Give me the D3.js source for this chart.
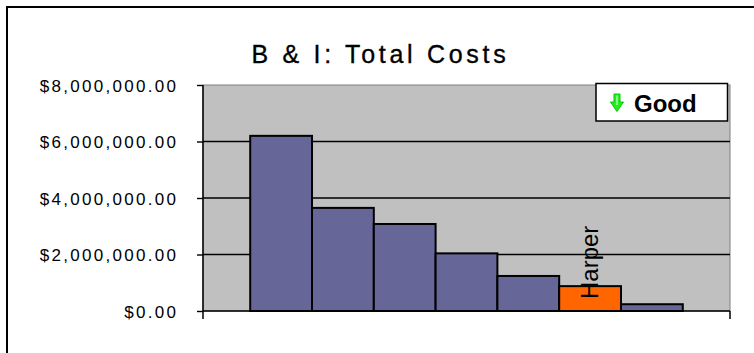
<!DOCTYPE html>
<html>
<head>
<meta charset="utf-8">
<script src="https://cdn.jsdelivr.net/npm/d3@7"></script>
<style>
  html, body { margin: 0; padding: 0; background: #fff; }
  svg { display: block; }
  text { font-family: "Liberation Sans", Arial, sans-serif; }
</style>
</head>
<body>
<svg id="chart" width="754" height="353"></svg>
<script>
// ---- data ----
const title = "B & I: Total Costs";
const series = ["Site 1", "Site 2", "Site 3", "Site 4", "Site 5", "Harper", "Site 7"];
const totals = [6200000, 3650000, 3080000, 2040000, 1240000, 880000, 240000];
const highlighted = "Harper";
const yTicks = [0, 2000000, 4000000, 6000000, 8000000];
const legendLabel = "Good";

// ---- layout ----
const plot = { left: 203, right: 730, top: 85, bottom: 311 };

const svg = d3.select("#chart");

// outer chart border
svg.append("rect")
  .attr("x", 7).attr("y", 7).attr("width", 770).attr("height", 370)
  .attr("fill", "#fff").attr("stroke", "#000").attr("stroke-width", 2);

const x = d3.scaleBand()
  .domain(series)
  .range([plot.left, plot.right])
  .paddingInner(0)
  .paddingOuter(0.764);

const y = d3.scaleLinear()
  .domain([0, 8000000])
  .range([plot.bottom, plot.top]);

// plot area background
svg.append("rect")
  .attr("x", plot.left).attr("y", plot.top)
  .attr("width", plot.right - plot.left).attr("height", plot.bottom - plot.top)
  .attr("fill", "#C0C0C0").attr("stroke", "#808080").attr("stroke-width", 1);

// gridlines
svg.append("g")
  .selectAll("line")
  .data(yTicks.filter(d => d > 0 && d < 8000000))
  .join("line")
  .attr("x1", plot.left).attr("x2", plot.right)
  .attr("y1", d => y(d)).attr("y2", d => y(d))
  .attr("stroke", "#000").attr("stroke-width", 1.4);

// bars
svg.append("g")
  .selectAll("rect")
  .data(series.map((s, i) => ({ name: s, value: totals[i] })))
  .join("rect")
  .attr("x", d => x(d.name))
  .attr("y", d => y(d.value))
  .attr("width", x.bandwidth())
  .attr("height", d => y(0) - y(d.value))
  .attr("fill", d => d.name === highlighted ? "#FF6600" : "#666699")
  .attr("stroke", "#000").attr("stroke-width", 2);

// y axis
const yAxis = d3.axisLeft(y)
  .tickValues(yTicks)
  .tickSize(6)
  .tickPadding(0)
  .tickFormat(d3.format("$,.2f"));
const ya = svg.append("g")
  .attr("transform", `translate(${plot.left},0)`)
  .call(yAxis);
ya.select(".domain").remove();
ya.selectAll(".tick line").attr("stroke", "#000").attr("stroke-width", 1.4);
ya.selectAll(".tick text")
  .attr("x", -24.7)
  .attr("dy", "0.36em")
  .attr("fill", "#000")
  .style("font-size", "17px")
  .style("letter-spacing", "2.3px")
  .style("font-family", "'Liberation Sans', Arial, sans-serif");
svg.append("line")
  .attr("x1", plot.left).attr("x2", plot.left)
  .attr("y1", plot.top).attr("y2", plot.bottom + 8)
  .attr("stroke", "#000").attr("stroke-width", 1.5);

// x axis (single category: ticks only at the ends)
svg.append("line")
  .attr("x1", plot.left).attr("x2", plot.right)
  .attr("y1", plot.bottom).attr("y2", plot.bottom)
  .attr("stroke", "#000").attr("stroke-width", 1.5);
svg.append("line")
  .attr("x1", plot.right).attr("x2", plot.right)
  .attr("y1", plot.bottom).attr("y2", plot.bottom + 8)
  .attr("stroke", "#000").attr("stroke-width", 1.5);

// data label for highlighted series
const hx = x(highlighted) + x.bandwidth() / 2 + 8;
svg.append("text")
  .attr("transform", `translate(${hx},${y(0) - 12}) rotate(-90)`)
  .attr("text-anchor", "start")
  .style("font-size", "24px")
  .attr("fill", "#000")
  .text(highlighted);

// title
svg.append("text")
  .attr("x", 251.5).attr("y", 63)
  .style("font-size", "25px")
  .style("letter-spacing", "3.7px")
  .attr("fill", "#000")
  .attr("stroke", "#000").attr("stroke-width", 0.35)
  .text(title);

// legend box
const lg = svg.append("g");
lg.append("rect")
  .attr("x", 596).attr("y", 83.5).attr("width", 131.5).attr("height", 37.5)
  .attr("fill", "#fff").attr("stroke", "#000").attr("stroke-width", 1.5);
// hollow green down arrow
lg.append("path")
  .attr("d", "M614,94 L620,94 L620,102 L623.5,102 L617,111.5 L610.5,102 L614,102 Z")
  .attr("fill", "#22ee22").attr("stroke", "#00cc00").attr("stroke-width", 1);
lg.append("line")
  .attr("x1", 617).attr("x2", 617).attr("y1", 95.5).attr("y2", 105)
  .attr("stroke", "#ccffcc").attr("stroke-width", 1.2);
lg.append("text")
  .attr("x", 634).attr("y", 111.5)
  .style("font-size", "24px").style("font-weight", "bold")
  .attr("fill", "#000")
  .text(legendLabel);
</script>
</body>
</html>
